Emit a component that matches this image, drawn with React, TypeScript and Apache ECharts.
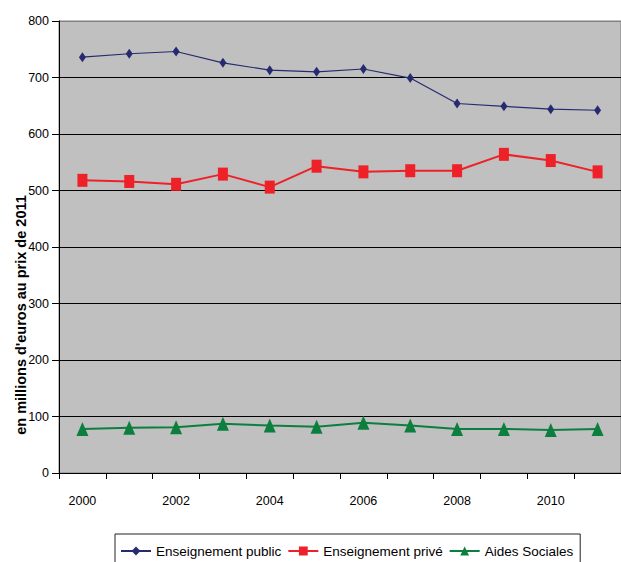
import React, { useEffect, useRef } from "react";
import * as echarts from "echarts";

const years = ["2000", "2001", "2002", "2003", "2004", "2005", "2006", "2007", "2008", "2009", "2010", "2011"];
const enseignementPublic = [736, 742, 746, 726, 713, 710, 715, 699, 654, 649, 644, 642];
const enseignementPrive = [518, 516, 511, 529, 506, 543, 533, 535, 535, 564, 553, 533];
const aidesSociales = [78, 80, 81, 87, 84, 82, 89, 84, 78, 78, 76, 78];
const seriesNames = ["Enseignement public", "Enseignement privé", "Aides Sociales"];
const yTitle = "en millions d'euros au prix de 2011";

const FONT = '"Liberation Sans", Arial, sans-serif';

export default function App() {
  const ref = useRef<HTMLDivElement>(null);
  useEffect(() => {
    if (!ref.current) return;
    const chart = echarts.init(ref.current, undefined, { renderer: "svg" });
    chart.setOption({
      animation: false,
      backgroundColor: "#ffffff",
      grid: {
        left: 59,
        right: -11,
        top: 21,
        bottom: 89,
        show: true,
        backgroundColor: "#c0c0c0",
        borderColor: "#808080",
        borderWidth: 1,
      },
      legend: {
        left: 115,
        top: 534,
        padding: [10, 7, 10, 5],
        itemGap: 6,
        itemWidth: 30,
        itemHeight: 11,
        borderColor: "#222",
        borderWidth: 1,
        backgroundColor: "#fff",
        borderRadius: 0,
        textStyle: { fontFamily: FONT, fontSize: 13.5, color: "#000" },
        data: seriesNames,
      },
      xAxis: {
        type: "category",
        data: years,
        boundaryGap: true,
        axisLine: { lineStyle: { color: "#000", width: 1 } },
        axisTick: { show: true, interval: 0, length: 6, lineStyle: { color: "#000" } },
        axisLabel: { interval: 1, margin: 21, fontFamily: FONT, fontSize: 12.5, color: "#000" },
        splitLine: { show: false },
      },
      yAxis: {
        type: "value",
        min: 0,
        max: 800,
        interval: 100,
        axisLine: { show: true, lineStyle: { color: "#000", width: 1 } },
        axisTick: { show: true, length: 7, lineStyle: { color: "#000" } },
        axisLabel: { margin: 10, fontFamily: FONT, fontSize: 12.5, color: "#000" },
        splitLine: {
          show: true,
          lineStyle: { color: ["#000", "#000", "#000", "#000", "#000", "#000", "#000", "#000", "#808080"], width: 1 },
        },
      },
      graphic: [
        {
          type: "text",
          x: 21,
          y: 315,
          rotation: Math.PI / 2,
          style: {
            text: yTitle,
            align: "center",
            verticalAlign: "middle",
            fill: "#000",
            font: 'bold 14.5px "Liberation Sans", Arial, sans-serif',
          },
        },
      ],
      series: [
        {
          name: seriesNames[0],
          type: "line",
          data: enseignementPublic,
          symbol: "diamond",
          symbolSize: [7, 10],
          lineStyle: { color: "#262b70", width: 1.2 },
          itemStyle: { color: "#262b70" },
        },
        {
          name: seriesNames[1],
          type: "line",
          data: enseignementPrive,
          symbol: "rect",
          symbolSize: [10, 13],
          lineStyle: { color: "#ee2128", width: 2 },
          itemStyle: { color: "#ee2128" },
        },
        {
          name: seriesNames[2],
          type: "line",
          data: aidesSociales,
          symbol: "triangle",
          symbolSize: [12, 14],
          lineStyle: { color: "#0c7f3f", width: 2 },
          itemStyle: { color: "#0c7f3f" },
        },
      ],
    });
    return () => chart.dispose();
  }, []);
  return <div ref={ref} style={{ position: "absolute", left: 0, top: 0, width: 621, height: 562 }} />;
}
